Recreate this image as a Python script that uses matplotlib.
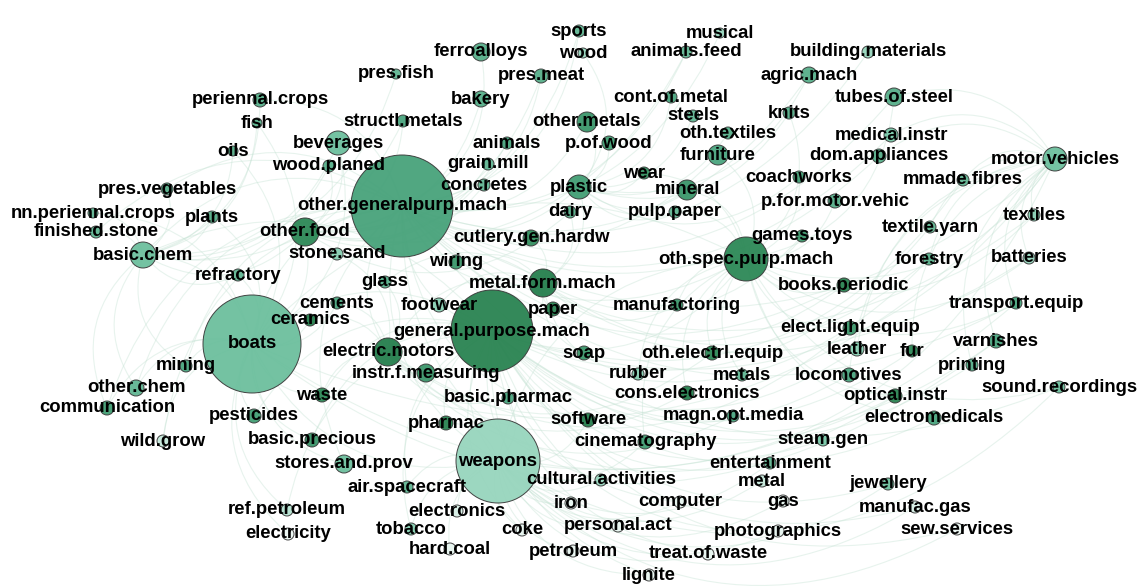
import matplotlib
matplotlib.use("Agg")
import matplotlib.pyplot as plt
from matplotlib.colors import LinearSegmentedColormap
from matplotlib.patches import Circle, FancyArrowPatch

# node table: name, x, y (pixel layout), radius, colour level (0 = pale, 1 = dark)
NAMES = [
    "periennal.crops", "fish", "oils", "beverages", "wood.planed", "pres.vegetables",
    "sports", "ferroalloys", "wood", "musical", "animals.feed", "pres.fish", "pres.meat",
    "bakery", "cont.of.metal", "structl.metals", "other.metals", "steels", "animals",
    "p.of.wood", "oth.textiles", "grain.mill", "furniture", "wear", "concretes", "plastic",
    "mineral", "building.materials", "agric.mach", "tubes.of.steel", "knits", "medical.instr",
    "dom.appliances", "motor.vehicles", "coachworks", "mmade.fibres", "p.for.motor.vehic",
    "games.toys", "pulp.paper", "dairy", "cutlery.gen.hardw", "oth.spec.purp.mach",
    "nn.periennal.crops", "plants", "finished.stone", "other.food", "basic.chem", "stone.sand",
    "refractory", "glass", "cements", "ceramics", "boats", "mining", "other.chem",
    "communication", "electric.motors", "instr.f.measuring", "waste", "pesticides", "wiring",
    "footwear", "metal.form.mach", "paper", "other.generalpurp.mach", "general.purpose.mach",
    "soap", "manufactoring", "oth.electrl.equip", "rubber", "metals", "cons.electronics",
    "magn.opt.media", "software", "cinematography", "steam.gen", "books.periodic",
    "elect.light.equip", "leather", "locomotives", "optical.instr", "electromedicals",
    "entertainment", "metal", "gas", "jewellery", "manufac.gas", "photographics",
    "sew.services", "textiles", "textile.yarn", "forestry", "batteries", "transport.equip",
    "varnishes", "fur", "printing", "sound.recordings", "wild.grow", "basic.precious",
    "stores.and.prov", "ref.petroleum", "electricity", "basic.pharmac", "pharmac", "weapons",
    "cultural.activities", "air.spacecraft", "iron", "computer", "electronics", "tobacco",
    "coke", "personal.act", "hard.coal", "petroleum", "treat.of.waste", "lignite",
]
X = [
    260, 257, 233, 338, 329, 167,
    579, 481, 583, 720, 686, 396, 541,
    481, 671, 403, 587, 693, 507,
    609, 728, 488, 718, 644, 484, 579,
    687, 868, 809, 894, 789, 891,
    879, 1055, 799, 963, 835,
    802, 675, 570, 531, 746,
    93, 212, 96, 305, 143, 337,
    238, 385, 337, 310, 252, 186, 136,
    107, 388, 426, 322, 254, 456,
    439, 543, 553, 402, 492,
    584, 677, 712, 638, 742, 687,
    733, 588, 645, 823, 844,
    850, 857, 849, 895, 934,
    770, 762, 783, 888, 915, 778,
    957, 1034, 930, 929, 1029, 1016,
    996, 912, 972, 1059, 163, 312,
    344, 287, 288, 508, 446, 498,
    601, 407, 571, 680, 457, 411,
    522, 618, 450, 573, 708, 649,
]
Y = [
    100, 123, 151, 143, 166, 189,
    31, 52, 53, 33, 52, 74, 76,
    99, 97, 121, 122, 116, 143,
    143, 133, 164, 155, 173, 185, 187,
    190, 52, 75, 97, 113, 135,
    156, 159, 177, 180, 201,
    236, 212, 212, 238, 259,
    213, 217, 232, 232, 255, 254,
    275, 282, 303, 320, 344, 366, 388,
    408, 352, 373, 395, 416, 262,
    305, 283, 309, 206, 331,
    353, 305, 353, 374, 375, 393,
    416, 420, 442, 440, 285,
    328, 349, 375, 396, 418,
    463, 481, 501, 484, 507, 531,
    529, 215, 227, 259, 258, 303,
    341, 351, 365, 387, 441, 440,
    464, 510, 534, 398, 423, 461,
    480, 487, 503, 502, 511, 529,
    530, 526, 549, 551, 554, 575,
]
RADIUS = [
    7, 5, 5, 12, 6, 6,
    6, 9, 5, 5, 6, 5, 7,
    8, 6, 6, 10, 6, 6,
    7, 6, 6, 10, 6, 6, 12,
    10, 6, 8, 9, 6, 7,
    7, 12, 6, 6, 7,
    6, 6, 6, 8, 22,
    5, 6, 6, 14, 13, 6,
    6, 6, 6, 6, 49, 6, 8,
    7, 14, 9, 7, 7, 7,
    7, 14, 7, 51, 41,
    7, 6, 7, 6, 6, 7,
    6, 7, 7, 6, 7,
    7, 7, 7, 7, 7,
    6, 6, 6, 6, 6, 6,
    6, 6, 6, 6, 6, 6,
    7, 6, 6, 6, 6, 7,
    9, 6, 6, 6, 7, 42,
    6, 6, 6, 6, 6, 6,
    6, 6, 6, 6, 6, 6,
]
LEVEL = [
    .55, .55, .55, .45, .55, .55,
    .5, .55, .3, .3, .5, .5, .55,
    .55, .6, .6, .7, .5, .6,
    .65, .55, .5, .6, .75, .5, .65,
    .7, .3, .55, .55, .55, .4,
    .55, .45, .65, .5, .55,
    .7, .5, .55, .75, .8,
    .5, .55, .5, .8, .45, .35,
    .5, .55, .6, .9, .45, .6, .5,
    .65, .9, .7, .8, .65, .7,
    .35, .9, .85, .62, .85,
    .7, .7, .8, .35, .5, .9,
    .6, .9, .65, .4, .85,
    .7, .35, .6, .85, .6,
    .5, .15, .05, .45, .1, .05,
    .03, .35, .5, .55, .3, .6,
    .6, .8, .55, .45, .15, .7,
    .45, .2, .03, .6, .85, .3,
    .3, .5, .05, .05, .1, .35,
    .05, .05, .05, .05, .05, .05,
]

# links, grouped by the sector they start from
LINKS = {
    "other.generalpurp.mach": [
        "boats", "weapons", "general.purpose.mach", "oth.spec.purp.mach", "motor.vehicles",
        "basic.chem", "metal.form.mach", "electric.motors", "tubes.of.steel", "agric.mach",
        "furniture", "plastic", "other.metals", "ferroalloys", "sports", "pres.meat",
        "periennal.crops", "pres.vegetables", "finished.stone", "communication", "mining",
        "other.chem", "wild.grow", "stores.and.prov", "cultural.activities", "software",
        "transport.equip", "textiles", "batteries", "books.periodic", "medical.instr",
        "dom.appliances", "animals.feed", "musical", "building.materials", "sound.recordings",
    ],
    "general.purpose.mach": [
        "boats", "weapons", "oth.spec.purp.mach", "motor.vehicles", "basic.chem",
        "locomotives", "optical.instr", "electromedicals", "varnishes", "printing",
        "jewellery", "manufac.gas", "steam.gen", "entertainment", "computer", "iron",
        "pharmac", "basic.precious", "pesticides", "waste", "ref.petroleum", "air.spacecraft",
        "tobacco", "coke", "lignite", "treat.of.waste", "photographics", "sew.services",
        "mmade.fibres", "forestry", "textile.yarn", "leather", "fur",
    ],
    "oth.spec.purp.mach": [
        "boats", "weapons", "motor.vehicles", "tubes.of.steel", "knits", "coachworks",
        "games.toys", "p.for.motor.vehic", "mineral", "pulp.paper", "wear", "furniture",
        "manufactoring", "oth.electrl.equip", "cons.electronics", "rubber", "metals",
        "elect.light.equip", "books.periodic", "transport.equip", "batteries", "textiles",
        "sound.recordings", "electromedicals", "optical.instr", "cinematography",
    ],
    "boats": [
        "weapons", "basic.chem", "other.food", "refractory", "cements", "ceramics", "mining",
        "other.chem", "communication", "pesticides", "waste", "wild.grow", "basic.precious",
        "stores.and.prov", "ref.petroleum", "electricity", "plants", "nn.periennal.crops",
        "fish", "oils", "beverages", "motor.vehicles", "transport.equip", "varnishes",
    ],
    "weapons": [
        "electronics", "hard.coal", "tobacco", "coke", "iron", "petroleum", "personal.act",
        "computer", "cultural.activities", "lignite", "treat.of.waste", "photographics",
        "gas", "metal", "jewellery", "entertainment", "cinematography", "software",
        "basic.pharmac", "pharmac", "air.spacecraft", "sew.services", "manufac.gas",
        "motor.vehicles", "sound.recordings",
    ],
    "metal.form.mach": [
        "paper", "wiring", "footwear", "glass", "cutlery.gen.hardw", "dairy", "plastic",
        "soap", "manufactoring", "rubber", "books.periodic", "games.toys", "forestry",
        "instr.f.measuring", "electric.motors",
    ],
    "electric.motors": [
        "instr.f.measuring", "ceramics", "cements", "stone.sand", "glass", "waste",
        "basic.pharmac", "oth.electrl.equip", "cons.electronics", "elect.light.equip",
        "magn.opt.media", "optical.instr",
    ],
    "motor.vehicles": [
        "mmade.fibres", "textiles", "textile.yarn", "batteries", "forestry", "dom.appliances",
        "medical.instr", "tubes.of.steel", "transport.equip", "varnishes", "printing",
        "fur", "leather", "locomotives",
    ],
    "basic.chem": [
        "nn.periennal.crops", "finished.stone", "pres.vegetables", "plants", "refractory",
        "other.food", "periennal.crops", "fish", "oils", "beverages", "wood.planed",
        "structl.metals", "pres.fish", "mining", "other.chem", "communication",
    ],
    "other.food": [
        "beverages", "bakery", "grain.mill", "animals", "concretes", "pres.meat", "dairy",
        "wood.planed", "structl.metals", "stone.sand", "animals.feed", "sports",
    ],
    "plastic": [
        "other.metals", "p.of.wood", "wear", "mineral", "pulp.paper", "cont.of.metal",
        "steels", "oth.textiles", "wood", "knits", "coachworks", "agric.mach",
    ],
}

cmap = LinearSegmentedColormap.from_list(
    "greens", ["#f7fbf9", "#b4e2d1", "#78c8a8", "#4aa57e", "#2c8856", "#1f7444"]
)

fig = plt.figure(figsize=(11.4, 5.86), dpi=100)
ax = fig.add_axes([0, 0, 1, 1])
ax.set_xlim(0, 1140)
ax.set_ylim(586, 0)
ax.axis("off")

pos = {name: (x, y) for name, x, y in zip(NAMES, X, Y)}

# faint curved links underneath everything
for source, targets in LINKS.items():
    for target in targets:
        arc = FancyArrowPatch(
            pos[source], pos[target],
            arrowstyle="-",
            connectionstyle="arc3,rad=0.38",
            color="#c4e2d3",
            alpha=0.4,
            linewidth=0.8,
            zorder=1,
        )
        ax.add_patch(arc)

for name, x, y, r, level in zip(NAMES, X, Y, RADIUS, LEVEL):
    ax.add_patch(Circle(
        (x, y), r,
        facecolor=cmap(level),
        edgecolor="#3a3a3a",
        linewidth=0.7,
        alpha=0.95,
        zorder=2,
    ))

for name, x, y in zip(NAMES, X, Y):
    ax.text(
        x, y, name,
        ha="center", va="center",
        fontsize=13.3,
        fontweight="bold",
        family=["Liberation Sans", "DejaVu Sans"],
        color="black",
        zorder=3,
    )

fig.savefig("out.png", dpi=100, facecolor="white")
